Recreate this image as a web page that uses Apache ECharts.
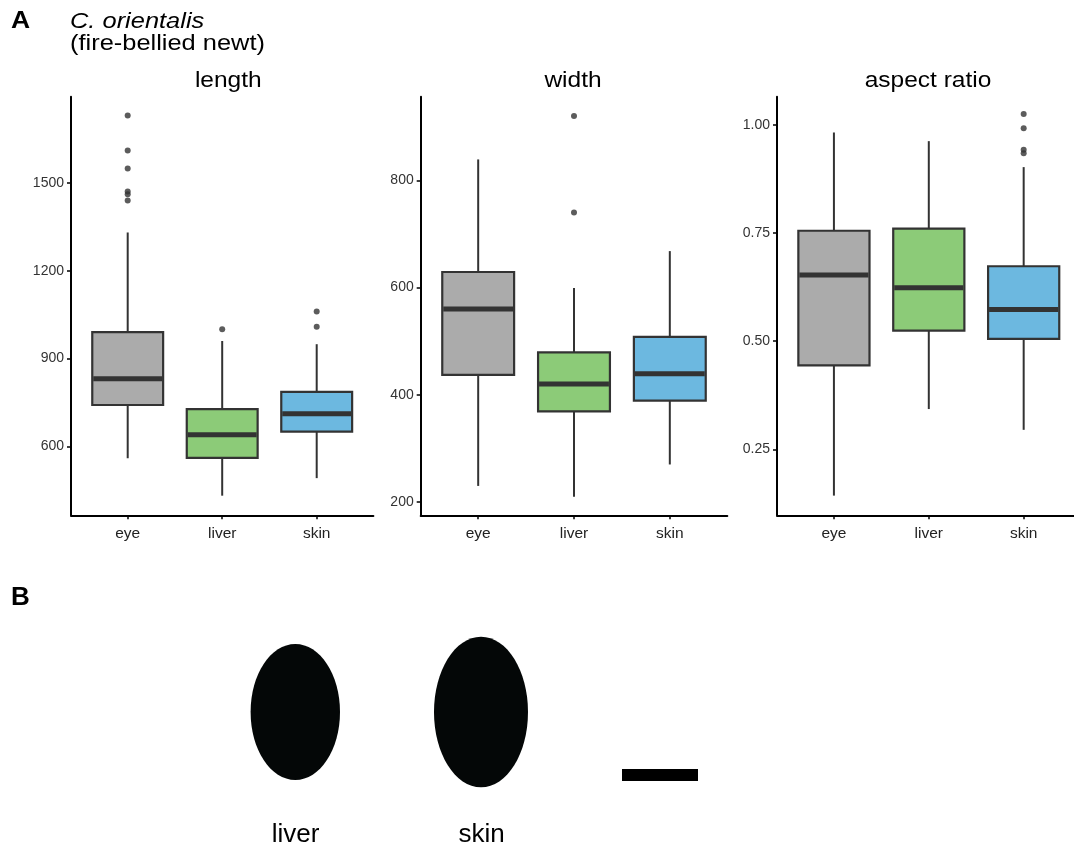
<!DOCTYPE html>
<html>
<head>
<meta charset="utf-8">
<script src="https://cdn.jsdelivr.net/npm/echarts@6/dist/echarts.min.js"></script>
<style>
html,body{margin:0;padding:0;background:#fff;}
#chart{width:1074px;height:850px;}
</style>
</head>
<body>
<div id="chart"></div>
<script>
// ---- data ----
const categories = ['eye', 'liver', 'skin'];
const panelTitles = ['length', 'width', 'aspect ratio'];
// [lower whisker, Q1, median, Q3, upper whisker]
const lengthStats = [[559, 741, 831, 990, 1331], [431, 560, 639, 727, 960], [491, 650, 711, 786, 949]];
const lengthOutliers = [[1731, 1611, 1550, 1471, 1462, 1440], [1000], [1061, 1009]];
const widthStats = [[230, 437, 560, 629, 839], [210, 369, 420, 479, 599], [270, 389, 439, 508, 668]];
const widthOutliers = [[], [920, 740], []];
const aspectStats = [[0.143, 0.444, 0.653, 0.755, 0.982], [0.343, 0.524, 0.623, 0.760, 0.962], [0.295, 0.505, 0.573, 0.673, 0.902]];
const aspectOutliers = [[], [], [1.025, 0.992, 0.942, 0.934]];
const lengthTicks = [600, 900, 1200, 1500];
const widthTicks = [200, 400, 600, 800];
const aspectTicks = [0.25, 0.50, 0.75, 1.00];

// ---- styling ----
const fills = ['#ABABAB', '#8CCB78', '#6CB8E0'];
const dark = '#333333';
const FONT = 'Liberation Sans, Arial, sans-serif';

const panels = [
  { stats: lengthStats, out: lengthOutliers, ticks: lengthTicks, min: 363.9, max: 1795.3, left: 71, width: 302.4, fmt: v => String(v) },
  { stats: widthStats, out: widthOutliers, ticks: widthTicks, min: 175.2, max: 956, left: 420.7, width: 306.6, fmt: v => String(v) },
  { stats: aspectStats, out: aspectOutliers, ticks: aspectTicks, min: 0.0975, max: 1.0647, left: 777, width: 303.6, fmt: v => v.toFixed(2) }
];

const grids = [], xAxes = [], yAxes = [], series = [];
panels.forEach((p, i) => {
  grids.push({ left: p.left, top: 96.7, width: p.width, height: 418.6, outerBoundsMode: 'none', containLabel: false });
  xAxes.push({
    type: 'value', gridIndex: i, min: 0.4, max: 3.6,
    axisLine: { show: true, lineStyle: { color: '#000', width: 2 } },
    axisTick: { show: true, customValues: [1, 2, 3], length: 4, lineStyle: { color: '#000', width: 1.5 } },
    axisLabel: { customValues: [1, 2, 3], formatter: v => categories[Math.round(v) - 1], color: '#222', fontSize: 15.5, fontFamily: FONT, margin: 10 },
    splitLine: { show: false }
  });
  yAxes.push({
    type: 'value', gridIndex: i, min: p.min, max: p.max,
    axisLine: { show: true, lineStyle: { color: '#000', width: 2 } },
    axisTick: { show: true, customValues: p.ticks, length: 4, lineStyle: { color: '#000', width: 1.5 } },
    axisLabel: { customValues: p.ticks, formatter: p.fmt, color: '#333', fontSize: 14, fontFamily: FONT, margin: 7 },
    splitLine: { show: false }
  });
  series.push({
    type: 'custom', xAxisIndex: i, yAxisIndex: i,
    encode: { x: 0, y: [1, 2, 3, 4, 5] },
    data: p.stats.map((s, k) => [k + 1].concat(s)),
    renderItem: function (params, api) {
      const x = api.value(0);
      const lo = api.coord([x, api.value(1)]);
      const q1 = api.coord([x, api.value(2)]);
      const md = api.coord([x, api.value(3)]);
      const q3 = api.coord([x, api.value(4)]);
      const hi = api.coord([x, api.value(5)]);
      const hw = api.size([0.75, 0])[0] / 2;
      const cx = lo[0];
      const idx = params.dataIndex;
      return {
        type: 'group',
        children: [
          { type: 'line', shape: { x1: cx, y1: hi[1], x2: cx, y2: q3[1] }, style: { stroke: dark, lineWidth: 2 } },
          { type: 'line', shape: { x1: cx, y1: q1[1], x2: cx, y2: lo[1] }, style: { stroke: dark, lineWidth: 2 } },
          { type: 'rect', shape: { x: cx - hw, y: q3[1], width: 2 * hw, height: q1[1] - q3[1] }, style: { fill: fills[idx], stroke: dark, lineWidth: 2.2 } },
          { type: 'line', shape: { x1: cx - hw + 1, y1: md[1], x2: cx + hw - 1, y2: md[1] }, style: { stroke: dark, lineWidth: 5 } }
        ]
      };
    }
  });
  const pts = [];
  p.out.forEach((arr, k) => arr.forEach(v => pts.push([k + 1, v])));
  series.push({
    type: 'scatter', xAxisIndex: i, yAxisIndex: i, data: pts,
    symbol: 'circle', symbolSize: 6, itemStyle: { color: dark }, z: 5
  });
});

function txt(text, x, y, size, opts) {
  return Object.assign({
    type: 'text', x: x, y: y, z: 10,
    style: Object.assign({ text: text, fontSize: size, fontFamily: FONT, fill: '#000', align: 'left', verticalAlign: 'middle' }, (opts && opts.style) || {})
  }, (opts && opts.el) || {});
}

const graphics = [
  txt('A', 11, 21.9, 23, { style: { fontWeight: 'bold' }, el: { scaleX: 1.15 } }),
  txt('C. orientalis', 70, 22.1, 22.5, { style: { fontStyle: 'italic' }, el: { scaleX: 1.13 } }),
  txt('(fire-bellied newt)', 70, 43.3, 22.5, { el: { scaleX: 1.13 } }),
  txt(panelTitles[0], 228.3, 81.4, 21.5, { style: { align: 'center' }, el: { scaleX: 1.14 } }),
  txt(panelTitles[1], 573, 81.4, 21.5, { style: { align: 'center' }, el: { scaleX: 1.14 } }),
  txt(panelTitles[2], 928, 81.4, 21.5, { style: { align: 'center' }, el: { scaleX: 1.14 } }),
  txt('B', 11, 597.7, 26, { style: { fontWeight: 'bold' } }),
  { type: 'ellipse', shape: { cx: 295.3, cy: 712, rx: 44.7, ry: 68 }, style: { fill: '#040707' } },
  { type: 'ellipse', shape: { cx: 481, cy: 712, rx: 47, ry: 75.3 }, style: { fill: '#040707' } },
  { type: 'rect', shape: { x: 622, y: 769, width: 76, height: 12 }, style: { fill: '#000' } },
  txt('liver', 295.5, 834.7, 26, { style: { align: 'center' } }),
  txt('skin', 481.5, 834.7, 26, { style: { align: 'center' } })
];

const chart = echarts.init(document.getElementById('chart'), null, { renderer: 'canvas' });
chart.setOption({
  animation: false,
  backgroundColor: '#fff',
  grid: grids,
  xAxis: xAxes,
  yAxis: yAxes,
  series: series,
  graphic: graphics
});
</script>
</body>
</html>
